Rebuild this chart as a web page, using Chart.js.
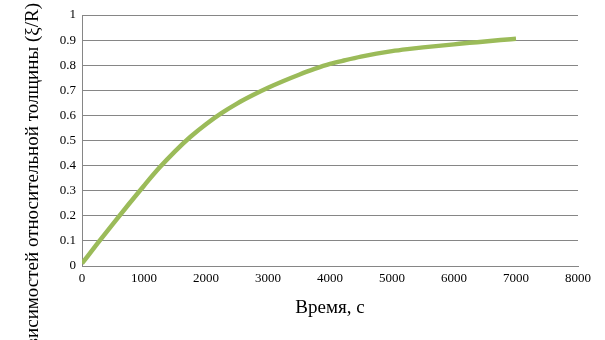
<!DOCTYPE html>
<html>
<head>
<meta charset="utf-8">
<script src="https://cdn.jsdelivr.net/npm/chart.js@4/dist/chart.umd.min.js"></script>
<style>
html,body{margin:0;padding:0;background:#fff;}
#wrap{position:relative;width:605px;height:340px;}
</style>
</head>
<body>
<div id="wrap"><canvas id="c" width="605" height="340"></canvas></div>
<script>
const timeSec = [0,250,500,750,1000,1250,1500,1750,2000,2250,2500,2750,3000,3250,3500,3750,4000,4250,4500,4750,5000,5250,5500,5750,6000,6250,6500,6750,7000];
const thicknessRatio = [0.01,0.09,0.168,0.245,0.32,0.392,0.457,0.515,0.565,0.609,0.647,0.68,0.71,0.737,0.762,0.785,0.805,0.82,0.834,0.846,0.856,0.864,0.871,0.877,0.883,0.889,0.894,0.9,0.905];
const xTitle = 'Время, с';
const yTitle = 'зависимостей относительной толщины (ξ/R)';
const xMin = 0, xMax = 8000, xStep = 1000;
const yMin = 0, yMax = 1, yStep = 0.1;

const points = timeSec.map((t, i) => ({x: t, y: thicknessRatio[i]}));

const yTitlePlugin = {
  id: 'yTitlePlugin',
  afterDraw(chart) {
    const ctx = chart.ctx;
    ctx.save();
    ctx.translate(33.5, 3);
    ctx.rotate(-Math.PI / 2);
    ctx.font = '19px "Liberation Serif"';
    ctx.fillStyle = '#000';
    ctx.textAlign = 'right';
    ctx.textBaseline = 'middle';
    ctx.fillText(yTitle, 0, 0);
    ctx.restore();
  }
};

new Chart(document.getElementById('c'), {
  type: 'scatter',
  data: {
    datasets: [{
      data: points,
      showLine: true,
      borderColor: '#9BBB59',
      backgroundColor: '#9BBB59',
      borderWidth: 4.5,
      pointRadius: 0,
      cubicInterpolationMode: 'monotone'
    }]
  },
  options: {
    responsive: false,
    animation: false,
    plugins: { legend: {display: false}, tooltip: {enabled: false} },
    layout: { padding: {left: 0, right: 27, top: 15, bottom: 0} },
    scales: {
      x: {
        type: 'linear',
        min: xMin, max: xMax,
        ticks: { stepSize: xStep, color: '#000', padding: 5, maxRotation: 0,
                 font: {family: '"Liberation Serif"', size: 13},
                 callback: v => String(v) },
        grid: { display: false, drawTicks: false },
        border: { display: true, color: '#868686' },
        title: { display: true, text: xTitle, color: '#000',
                 font: {family: '"Liberation Serif"', size: 19},
                 padding: {top: 0, bottom: 20.6} },
        afterFit(scale) { scale.height = 74; }
      },
      y: {
        type: 'linear',
        min: yMin, max: yMax,
        ticks: { stepSize: yStep, color: '#000', padding: 6,
                 font: {family: '"Liberation Serif"', size: 13},
                 callback: v => String(Math.round(v * 10) / 10) },
        grid: { color: '#868686', drawTicks: false, lineWidth: 1 },
        border: { display: true, color: '#868686' },
        afterFit(scale) { scale.width = 82; }
      }
    }
  },
  plugins: [yTitlePlugin]
});
</script>
</body>
</html>
